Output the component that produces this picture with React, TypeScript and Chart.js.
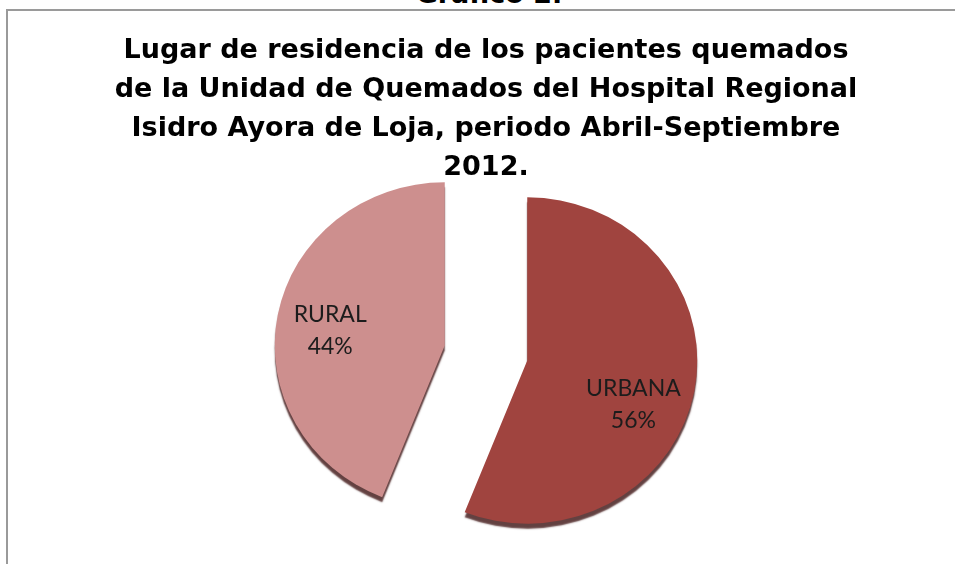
import React, { useEffect, useRef } from "react";
import { Chart, registerables } from "chart.js";
Chart.register(...registerables);

const HEADING = "Gráfico 2.";
const TITLE_LINES = [
  "Lugar de residencia de los pacientes quemados",
  "de la Unidad de Quemados del Hospital Regional",
  "Isidro Ayora de Loja, periodo Abril-Septiembre",
  "2012.",
];
const CATEGORIES = ["URBANA", "RURAL"];
const PERCENTS = [56, 44];
const COLORS = ["#A0443F", "#CD8F8E"];

const EXPLODE = 42;
const Y_SQUASH = 0.96;
const LABEL_RADIUS = 0.68;
const LABEL_ANGLE_SHIFT = [12.5, -3];

const explodePlugin = {
  id: "explode3d",
  beforeDatasetsDraw(chart: any) {
    const meta = chart.getDatasetMeta(0);
    const ctx = chart.ctx;
    const saved = meta.data.map((el: any) => ({ x: el.x, y: el.y }));
    chart.$savedPos = saved;
    meta.data.forEach((el: any) => {
      const mid = (el.startAngle + el.endAngle) / 2;
      el.x += Math.cos(mid) * EXPLODE;
      el.y += Math.sin(mid) * EXPLODE;
    });
    const cy = saved[0].y;
    ctx.save();
    ctx.translate(0, cy);
    ctx.scale(1, Y_SQUASH);
    ctx.translate(0, -cy);
    ctx.shadowColor = "rgba(60,18,18,0.8)";
    ctx.shadowOffsetX = 0;
    ctx.shadowOffsetY = 5;
    ctx.shadowBlur = 1.5;
  },
  afterDatasetsDraw(chart: any) {
    const ctx = chart.ctx;
    ctx.restore();
    const meta = chart.getDatasetMeta(0);
    const saved = chart.$savedPos || [];
    const cy = saved.length ? saved[0].y : 0;
    ctx.save();
    ctx.fillStyle = "#1c1c1c";
    ctx.font = '23px Lato, "Noto Sans", sans-serif';
    ctx.textAlign = "center";
    ctx.textBaseline = "middle";
    meta.data.forEach((el: any, i: number) => {
      const mid = (el.startAngle + el.endAngle) / 2 + (LABEL_ANGLE_SHIFT[i] * Math.PI) / 180;
      const r = el.outerRadius * LABEL_RADIUS;
      const lx = el.x + Math.cos(mid) * r;
      const lyRaw = el.y + Math.sin(mid) * r;
      const ly = cy + (lyRaw - cy) * Y_SQUASH;
      ctx.fillText(CATEGORIES[i], lx, ly - 16);
      ctx.fillText(PERCENTS[i] + "%", lx, ly + 16);
    });
    ctx.restore();
    meta.data.forEach((el: any, i: number) => {
      if (saved[i]) {
        el.x = saved[i].x;
        el.y = saved[i].y;
      }
    });
  },
};

export default function App() {
  const ref = useRef<HTMLCanvasElement | null>(null);
  useEffect(() => {
    if (!ref.current) return;
    const chart = new Chart(ref.current, {
      type: "pie",
      data: {
        labels: CATEGORIES,
        datasets: [
          {
            data: PERCENTS,
            backgroundColor: COLORS,
            borderWidth: 0,
            radius: 170,
          } as any,
        ],
      },
      options: {
        animation: false,
        responsive: false,
        events: [],
        layout: { padding: { left: 9, bottom: 45 } },
        plugins: {
          legend: { display: false },
          tooltip: { enabled: false },
          title: {
            display: true,
            text: TITLE_LINES,
            color: "#000",
            font: {
              family: '"DejaVu Sans", "Liberation Sans", Arial, sans-serif',
              size: 27,
              weight: "bold",
              lineHeight: 39 / 27,
            },
            padding: { top: 20, bottom: 0 },
          },
        },
      },
      plugins: [explodePlugin],
    });
    return () => chart.destroy();
  }, []);

  return (
    <div
      style={{
        position: "fixed",
        left: 0,
        top: 0,
        width: 955,
        height: 564,
        overflow: "hidden",
        background: "#fff",
      }}
    >
      <div
        style={{
          position: "absolute",
          left: 0,
          top: -22,
          width: 978,
          textAlign: "center",
          font: 'bold 27px "DejaVu Sans", "Liberation Sans", Arial, sans-serif',
          lineHeight: "32px",
          color: "#000",
        }}
      >
        {HEADING}
      </div>
      <div
        style={{
          position: "absolute",
          left: 6,
          top: 9,
          width: 960,
          height: 570,
          borderLeft: "2px solid #9a9a9a",
          borderTop: "2px solid #9a9a9a",
        }}
      />
      <canvas
        ref={ref}
        width={947}
        height={553}
        style={{ position: "absolute", left: 8, top: 11, width: 947, height: 553 }}
      />
    </div>
  );
}
